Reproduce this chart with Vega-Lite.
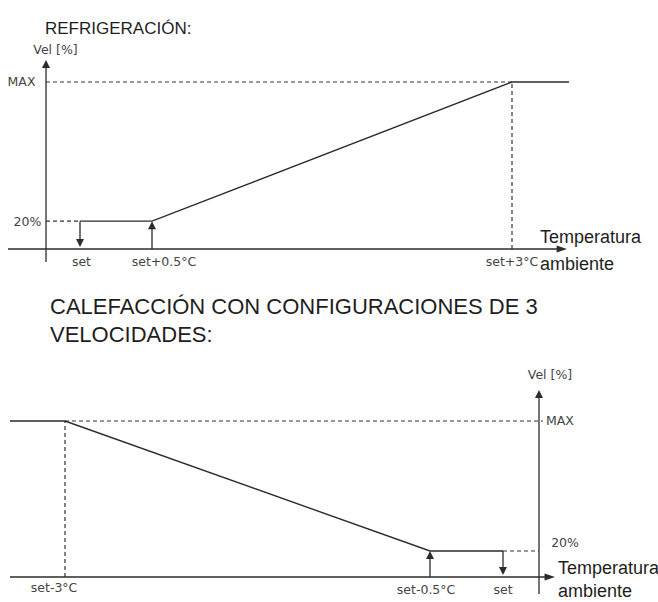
{
  "$schema": "https://vega.github.io/schema/vega-lite/v6.json",
  "background": "white",
  "padding": {"top": 20, "left": 0, "right": 0, "bottom": 0},
  "spacing": 16,
  "config": {"view": {"stroke": null}},
  "datasets": {
    "cool_axes": [{"x": -0.5, "y": 0, "x2": 3.32, "y2": 0}, {"x": -0.236, "y": -9.34, "x2": -0.236, "y2": 131.5}],
    "cool_guides": [{"x": -0.236, "y": 120, "x2": 3, "y2": 120}, {"x": -0.236, "y": 20, "x2": 0, "y2": 20}, {"x": 3, "y": 0, "x2": 3, "y2": 120}],
    "cool_profile": [{"x": 0, "y": 20}, {"x": 0.5, "y": 20}, {"x": 3, "y": 120}, {"x": 3.396, "y": 120}],
    "cool_shafts": [{"x": 0, "y": 20, "x2": 0, "y2": 7.2}, {"x": 0.5, "y": 0, "x2": 0.5, "y2": 14.4}],
    "cool_up": [{"x": -0.236, "y": 135.8}, {"x": 0.5, "y": 20}],
    "cool_down": [{"x": 0, "y": 1.44}],
    "cool_right": [{"x": 3.382, "y": 0}],
    "cool_labels": [{"label": "set", "x": 0.01, "y": -9.3}, {"label": "set+0.5°C", "x": 0.583, "y": -9.3}, {"label": "set+3°C", "x": 3.0, "y": -9.3}, {"label": "MAX", "x": -0.406, "y": 120}, {"label": "20%", "x": -0.365, "y": 19.4}, {"label": "Vel [%]", "x": -0.17, "y": 143}],
    "cool_axis_title": [{"label": "Temperatura ambiente", "x": 3.194, "y": 4.3}],
    "heat_axes": [{"x": -3.377, "y": 0, "x2": 0.288, "y2": 0}, {"x": 0.2466, "y": -13.1, "x2": 0.2466, "y2": 137.7}],
    "heat_guides": [{"x": -3, "y": 120, "x2": 0.274, "y2": 120}, {"x": 0, "y": 20, "x2": 0.2466, "y2": 20}, {"x": -3, "y": 0, "x2": -3, "y2": 120}],
    "heat_profile": [{"x": -3.377, "y": 120}, {"x": -3, "y": 120}, {"x": -0.5, "y": 20}, {"x": 0, "y": 20}],
    "heat_shafts": [{"x": -0.5, "y": 0, "x2": -0.5, "y2": 13.8}, {"x": 0, "y": 20, "x2": 0, "y2": 7.7}],
    "heat_up": [{"x": 0.2466, "y": 143.8}, {"x": -0.5, "y": 20}],
    "heat_down": [{"x": 0, "y": 1.54}],
    "heat_right": [{"x": 0.356, "y": 0}],
    "heat_labels": [{"label": "set-3°C", "x": -3.075, "y": -8.5}, {"label": "set-0.5°C", "x": -0.527, "y": -10}, {"label": "set", "x": 0, "y": -10}, {"label": "MAX", "x": 0.39, "y": 120}, {"label": "20%", "x": 0.425, "y": 26.2}, {"label": "Vel [%]", "x": 0.322, "y": 155.4}],
    "heat_axis_title": [{"label": "Temperatura ambiente", "x": 0.377, "y": 2.3}]
  },
  "vconcat": [
    {
      "width": 658,
      "height": 242,
      "title": {"text": "REFRIGERACIÓN:", "anchor": "start", "frame": "group", "dx": 45, "offset": -17, "baseline": "bottom", "font": "Liberation Sans", "fontSize": 17, "fontWeight": "normal", "color": "#1e1e1e"},
      "encoding": {
        "x": {"field": "x", "type": "quantitative", "scale": {"domain": [-0.5556, 4.0139], "nice": false, "zero": false}, "axis": null},
        "y": {"field": "y", "type": "quantitative", "scale": {"domain": [-22.27, 151.6], "nice": false, "zero": false}, "axis": null}
      },
      "layer": [
        {"data": {"name": "cool_guides"}, "mark": {"type": "rule", "stroke": "#333333", "strokeWidth": 1.2, "strokeDash": [4, 3]}, "encoding": {"x2": {"field": "x2"}, "y2": {"field": "y2"}}},
        {"data": {"name": "cool_axes"}, "mark": {"type": "rule", "stroke": "#2b2b2b", "strokeWidth": 1.3}, "encoding": {"x2": {"field": "x2"}, "y2": {"field": "y2"}}},
        {"data": {"name": "cool_profile"}, "mark": {"type": "line", "stroke": "#2b2b2b", "strokeWidth": 1.4}, "encoding": {}},
        {"data": {"name": "cool_shafts"}, "mark": {"type": "rule", "stroke": "#2b2b2b", "strokeWidth": 1.3}, "encoding": {"x2": {"field": "x2"}, "y2": {"field": "y2"}}},
        {"data": {"name": "cool_up"}, "mark": {"type": "point", "shape": "M0,0L1,2L-1,2Z", "size": 64, "filled": true, "color": "#2b2b2b", "opacity": 1}},
        {"data": {"name": "cool_down"}, "mark": {"type": "point", "shape": "M0,0L1,-2L-1,-2Z", "size": 64, "filled": true, "color": "#2b2b2b", "opacity": 1}},
        {"data": {"name": "cool_right"}, "mark": {"type": "point", "shape": "M0,0L-2.6,0.9L-2.6,-0.9Z", "size": 64, "filled": true, "color": "#2b2b2b", "opacity": 1}},
        {"data": {"name": "cool_labels"}, "mark": {"type": "text", "font": "DejaVu Sans", "fontSize": 12.5, "color": "#444444", "align": "center", "baseline": "middle"}, "encoding": {"text": {"field": "label"}}},
        {"data": {"name": "cool_axis_title"}, "mark": {"type": "text", "font": "Liberation Sans", "fontSize": 18, "color": "#1e1e1e", "align": "left", "baseline": "alphabetic", "lineBreak": " ", "lineHeight": 27}, "encoding": {"text": {"field": "label"}}}
      ]
    },
    {
      "width": 658,
      "height": 242,
      "title": {"text": ["CALEFACCIÓN CON CONFIGURACIONES DE 3", "VELOCIDADES:"], "anchor": "start", "frame": "group", "dx": 50, "offset": -9, "baseline": "bottom", "lineHeight": 28, "font": "Liberation Sans", "fontSize": 22, "fontWeight": "normal", "color": "#1e1e1e"},
      "encoding": {
        "x": {"field": "x", "type": "quantitative", "scale": {"domain": [-3.4452, 1.0616], "nice": false, "zero": false}, "axis": null},
        "y": {"field": "y", "type": "quantitative", "scale": {"domain": [-19.23, 166.92], "nice": false, "zero": false}, "axis": null}
      },
      "layer": [
        {"data": {"name": "heat_guides"}, "mark": {"type": "rule", "stroke": "#333333", "strokeWidth": 1.2, "strokeDash": [4, 3]}, "encoding": {"x2": {"field": "x2"}, "y2": {"field": "y2"}}},
        {"data": {"name": "heat_axes"}, "mark": {"type": "rule", "stroke": "#2b2b2b", "strokeWidth": 1.3}, "encoding": {"x2": {"field": "x2"}, "y2": {"field": "y2"}}},
        {"data": {"name": "heat_profile"}, "mark": {"type": "line", "stroke": "#2b2b2b", "strokeWidth": 1.4}, "encoding": {}},
        {"data": {"name": "heat_shafts"}, "mark": {"type": "rule", "stroke": "#2b2b2b", "strokeWidth": 1.3}, "encoding": {"x2": {"field": "x2"}, "y2": {"field": "y2"}}},
        {"data": {"name": "heat_up"}, "mark": {"type": "point", "shape": "M0,0L1,2L-1,2Z", "size": 64, "filled": true, "color": "#2b2b2b", "opacity": 1}},
        {"data": {"name": "heat_down"}, "mark": {"type": "point", "shape": "M0,0L1,-2L-1,-2Z", "size": 64, "filled": true, "color": "#2b2b2b", "opacity": 1}},
        {"data": {"name": "heat_right"}, "mark": {"type": "point", "shape": "M0,0L-2.6,0.9L-2.6,-0.9Z", "size": 64, "filled": true, "color": "#2b2b2b", "opacity": 1}},
        {"data": {"name": "heat_labels"}, "mark": {"type": "text", "font": "DejaVu Sans", "fontSize": 12.5, "color": "#444444", "align": "center", "baseline": "middle"}, "encoding": {"text": {"field": "label"}}},
        {"data": {"name": "heat_axis_title"}, "mark": {"type": "text", "font": "Liberation Sans", "fontSize": 18, "color": "#1e1e1e", "align": "left", "baseline": "alphabetic", "lineBreak": " ", "lineHeight": 23}, "encoding": {"text": {"field": "label"}}}
      ]
    }
  ]
}
